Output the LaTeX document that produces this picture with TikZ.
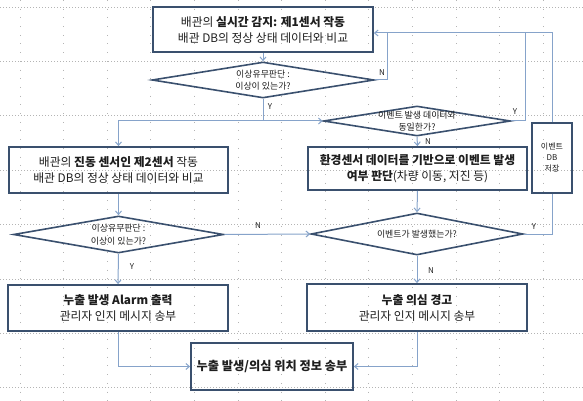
\documentclass[tikz,border=0pt]{standalone}
\usepackage{fontspec}
\setmainfont{Noto Sans CJK KR}
\usetikzlibrary{shapes.geometric,arrows.meta}
\definecolor{boxc}{HTML}{3A506E}
\definecolor{connc}{HTML}{86A3CA}
\definecolor{gridc}{HTML}{B4B4B4}
\definecolor{txtc}{HTML}{1E1E1E}
\tikzset{
  boxn/.style={draw=boxc,line width=1.8pt,inner sep=0pt,align=center,text=txtc,
    font=\fontsize{11.8}{16}\selectfont},
  dia/.style={draw=boxc,line width=1.6pt,shape=diamond,inner sep=0pt},
  dtext/.style={align=center,text=txtc,inner sep=0pt,font=\fontsize{8.9}{12.5}\selectfont},
  conn/.style={draw=connc,line width=1pt},
  arr/.style={-{Straight Barb[length=3.5pt,width=6pt]}},
  lbl/.style={text=txtc,inner sep=0pt,font=\fontsize{8}{10}\selectfont},
  gridh/.style={draw=gridc,line width=0.7pt,dash pattern=on 0.7pt off 2.3pt},
  gridv/.style={draw=gridc,line width=0.7pt,dash pattern=on 0.7pt off 8pt},
}
\begin{document}
\begin{tikzpicture}[x=1pt,y=-1pt]
\useasboundingbox (0,0) rectangle (583,401);
% grid
\foreach \k in {0,...,12}{\draw[gridv] (20+43.6*\k,0) -- (20+43.6*\k,401);}
\foreach \k in {0,...,7}{\draw[gridh] (0,7+54.4*\k) -- (583,7+54.4*\k);}
% boxes
\node[boxn,minimum width=220pt,minimum height=45pt] (b1) at (263,29.5)
  {배관의 \textbf{실시간 감지: 제1센서 작동}\\배관 DB의 정상 상태 데이터와 비교};
\node[boxn,minimum width=219pt,minimum height=46pt] (b2) at (118.5,170)
  {배관의 \textbf{진동 센서인 제2센서} 작동\\배관 DB의 정상 상태 데이터와 비교};
\node[boxn,minimum width=219pt,minimum height=43pt] (b3) at (417.5,168.5)
  {\textbf{환경센서 데이터를 기반으로 이벤트 발생}\\\textbf{여부 판단}(차량 이동, 지진 등)};
\node[boxn,minimum width=40pt,minimum height=70pt,font=\fontsize{8}{11}\selectfont] (db) at (552,158)
  {이벤트\\DB\\저장};
\node[boxn,minimum width=220pt,minimum height=46pt] (alarm) at (118,308)
  {\textbf{누출 발생 Alarm 출력}\\관리자 인지 메시지 송부};
\node[boxn,minimum width=220pt,minimum height=47pt] (warn) at (417,307.5)
  {\textbf{누출 의심 경고}\\관리자 인지 메시지 송부};
\node[boxn,minimum width=162pt,minimum height=47pt,font=\fontsize{12.2}{16}\selectfont] (fin) at (272,366.5)
  {\textbf{누출 발생/의심 위치 정보 송부}};
% diamonds
\node[dia,minimum width=222pt,minimum height=36pt] (d1) at (263,80) {};
\node[dtext] at (d1) {이상유무판단 :\\이상이 있는가?};
\node[dia,minimum width=187pt,minimum height=30pt] (d2) at (417,121) {};
\node[dtext] at (d2) {이벤트 발생 데이터와\\동일한가?};
\node[dia,minimum width=210pt,minimum height=37pt] (d3) at (118.5,234.5) {};
\node[dtext] at (d3) {이상유무판단 :\\이상이 있는가?};
\node[dia,minimum width=212pt,minimum height=42pt] (d4) at (417,234) {};
\node[dtext] at (d4) {이벤트가 발생했는가?};
% junctions
\coordinate (b1in) at (b1.east |- 0,33);
\coordinate (j1) at (387,33);
\coordinate (j2) at (525,33);
\coordinate (j3) at (db.north |- 0,33);
\coordinate (s1) at (263,121);
% connectors
\draw[conn,arr] (b1.south) -- (d1.north);
\draw[conn] (d1.east) -| (j1);
\draw[conn] (d2.east) -| (j2);
\draw[conn,arr] (db.north) -- (j3) -- (b1in);
\draw[conn] (d4.east) -| (db.south);
\draw[conn] (d1.south) -- (s1);
\draw[conn,arr] (s1) -| (b2.north);
\draw[conn,arr] (s1) -- (d2.west);
\draw[conn,arr] (d2.south) -- (b3.north);
\draw[conn,arr] (b3.south) -- (d4.north);
\draw[conn,arr] (b2.south) -- (d3.north);
\draw[conn,arr] (d3.east) -- (d4.west);
\draw[conn,arr] (d3.south) -- (alarm.north);
\draw[conn,arr] (d4.south) -- (warn.north);
\draw[conn,arr] (alarm.south) |- (fin.west);
\draw[conn,arr] (warn.south) |- (fin.east);
% labels
\node[lbl] (lN1) at (382,73) {N};
\node[lbl] (lY1) at (270,107) {Y};
\node[lbl] (lY2) at (515,112) {Y};
\node[lbl] (lN2) at (428,142) {N};
\node[lbl] (lN3) at (258,226) {N};
\node[lbl] (lY3) at (132,267) {Y};
\node[lbl] (lN4) at (431,271) {N};
\node[lbl] (lY4) at (534,227) {Y};
\end{tikzpicture}
\end{document}
